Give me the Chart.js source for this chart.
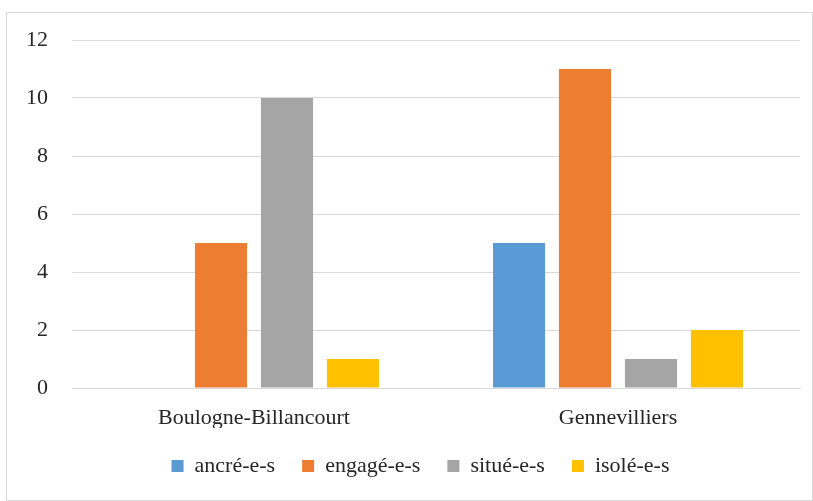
<!DOCTYPE html>
<html lang="fr">
<head>
  <meta charset="UTF-8">
  <title>Chart</title>
  <script src="https://cdn.jsdelivr.net/npm/chart.js"></script>
  <style>
    body {
      margin: 0;
      padding: 0;
      background: #fff;
    }

    .frame {
      position: absolute;
      left: 6px;
      top: 12px;
      width: 807px;
      height: 489px;
      border: 1px solid #d9d9d9;
      box-sizing: border-box;
    }
  </style>
</head>
<body>
  <div class="frame">
    <canvas id="chart"></canvas>
  </div>

  <script>
    const categories = ['Boulogne-Billancourt', 'Gennevilliers'];
    const seriesNames = ['ancré-e-s', 'engagé-e-s', 'situé-e-s', 'isolé-e-s'];
    const ancres = [0, 5];
    const engages = [5, 11];
    const situes = [10, 1];
    const isoles = [1, 2];
    const colors = ['#5b9bd5', '#ed7d31', '#a5a5a5', '#ffc000'];

    const values = [ancres, engages, situes, isoles];
    const font = { family: '"Liberation Serif", "DejaVu Serif", serif', size: 22 };

    // nudge the legend a bit to the right, like the original
    const legendShift = {
      id: 'legendShift',
      afterLayout(chart) {
        chart.legend.left += 34;
      }
    };

    new Chart(document.getElementById('chart'), {
      type: 'bar',
      data: {
        labels: categories,
        datasets: seriesNames.map((name, i) => ({
          label: name,
          data: values[i],
          backgroundColor: colors[i],
          categoryPercentage: 0.725,
          barPercentage: 0.79
        }))
      },
      options: {
        responsive: true,
        maintainAspectRatio: false,
        animation: false,
        layout: {
          padding: { top: 27, right: 12, bottom: 22, left: 0 }
        },
        scales: {
          x: {
            grid: { display: false, drawTicks: false },
            border: { color: '#d9d9d9' },
            ticks: { color: '#262626', font: font, padding: 17 },
            afterFit: s => { s.height = 40; }
          },
          y: {
            min: 0,
            max: 12,
            ticks: { stepSize: 2, color: '#262626', font: font, padding: 24 },
            grid: { color: '#d9d9d9', drawTicks: false },
            border: { display: false },
            afterFit: s => {
              s.width = 65;
              s.paddingTop = 13;
              s.paddingBottom = 13;
            }
          }
        },
        plugins: {
          legend: {
            position: 'bottom',
            maxHeight: 50,
            labels: {
              color: '#262626',
              font: font,
              boxWidth: 12,
              boxHeight: 12,
              padding: 27
            }
          },
          tooltip: { enabled: false }
        }
      },
      plugins: [legendShift]
    });
  </script>
</body>
</html>
